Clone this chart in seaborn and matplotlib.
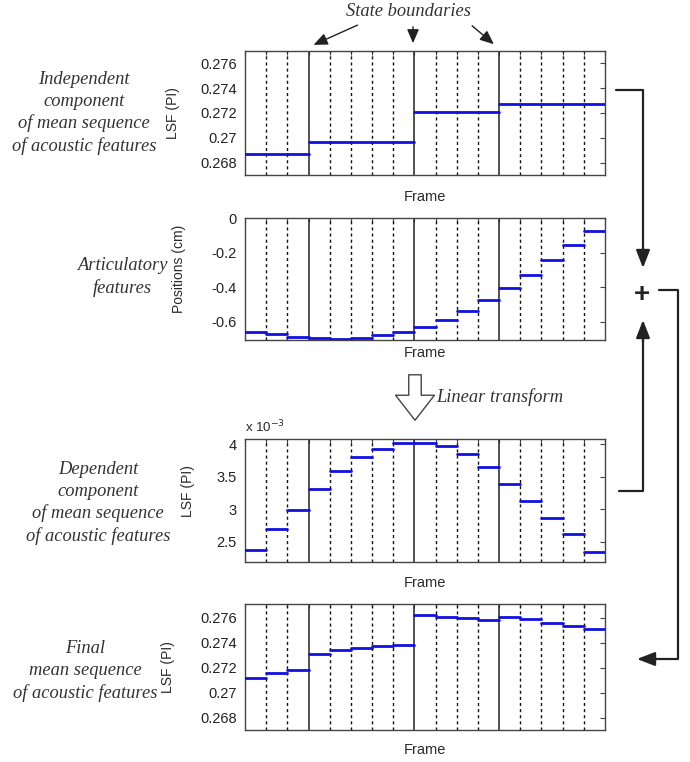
import numpy as np
import pandas as pd
import seaborn as sns
import matplotlib.pyplot as plt

# frames per HMM state (state boundaries after frames 3, 8 and 12)
state_lengths = [3, 5, 4, 5]

# panel 1: independent component, one value per state
lsf_indep_states = [0.26873, 0.26970, 0.27212, 0.27269]
# panel 2: articulatory feature per frame (cm)
positions_cm = [-0.658, -0.671, -0.687, -0.692, -0.698, -0.692, -0.677, -0.658, -0.629,
                -0.590, -0.538, -0.475, -0.402, -0.331, -0.244, -0.154, -0.075]
# panel 3: dependent component per frame (x 1e-3)
lsf_dep_e3 = [2.382, 2.694, 2.996, 3.319, 3.585, 3.800, 3.933, 4.026, 4.026,
              3.980, 3.850, 3.652, 3.386, 3.124, 2.868, 2.618, 2.341]
# panel 4: final mean sequence per frame
lsf_final = [0.27115, 0.27156, 0.27183, 0.27312, 0.27339, 0.27360, 0.27371, 0.27379, 0.27622,
             0.27608, 0.27600, 0.27581, 0.27608, 0.27587, 0.27555, 0.27533, 0.27509]

lsf_ticks = [0.268, 0.270, 0.272, 0.274, 0.276]
lsf_ticklabels = ['0.268', '0.27', '0.272', '0.274', '0.276']
pos_ticks = [-0.6, -0.4, -0.2, 0]
pos_ticklabels = ['-0.6', '-0.4', '-0.2', '0']
dep_ticks = [2.5, 3, 3.5, 4]
dep_ticklabels = ['2.5', '3', '3.5', '4']

left_texts = [
    'Independent\ncomponent\nof mean sequence\nof acoustic features',
    'Articulatory\nfeatures',
    'Dependent\ncomponent\nof mean sequence\nof acoustic features',
    'Final\nmean sequence\nof acoustic features',
]

sns.set_theme(style='white')
plt.rcParams['font.family'] = ['Liberation Sans', 'DejaVu Sans']

W, H = 690, 762
fig = plt.figure(figsize=(W / 100, H / 100), dpi=100)

n_frames = sum(state_lengths)
boundaries = list(np.cumsum(state_lengths)[:-1])


def fr(x, y):
    # pixel (top-left origin) -> figure fraction
    return x / W, 1 - y / H


def ax_box(top, bottom, left=245, right=605):
    return [left / W, 1 - bottom / H, (right - left) / W, (bottom - top) / H]


def frame_df(values):
    rows = []
    for i, v in enumerate(values):
        rows.append({'x': i, 'y': v, 'frame': i})
        rows.append({'x': i + 1, 'y': v, 'frame': i})
    return pd.DataFrame(rows)


panels = [
    dict(box=ax_box(51, 175), vals=np.repeat(lsf_indep_states, state_lengths), ylim=(0.267, 0.277),
         ticks=lsf_ticks, labels=lsf_ticklabels, ylabel='LSF (PI)', ylab=(-0.18, 0.5), xlab=-0.177),
    dict(box=ax_box(218, 340), vals=positions_cm, ylim=(-0.705, 0),
         ticks=pos_ticks, labels=pos_ticklabels, ylabel='Positions (cm)', ylab=(-0.165, 0.58), xlab=-0.107),
    dict(box=ax_box(439, 562), vals=lsf_dep_e3, ylim=(2.19, 4.08),
         ticks=dep_ticks, labels=dep_ticklabels, ylabel='LSF (PI)', ylab=(-0.14, 0.58), xlab=-0.171),
    dict(box=ax_box(604, 730), vals=lsf_final, ylim=(0.267, 0.2771),
         ticks=lsf_ticks, labels=lsf_ticklabels, ylabel='LSF (PI)', ylab=(-0.195, 0.5), xlab=-0.159),
]

for p in panels:
    ax = fig.add_axes(p['box'])
    for e in range(1, n_frames):
        if e in boundaries:
            ax.axvline(e, color='#222222', lw=1.1, zorder=1)
        else:
            ax.axvline(e, color='#111111', lw=1.0, ls=(0, (2.2, 2.2)), zorder=1)
    sns.lineplot(data=frame_df(p['vals']), x='x', y='y', units='frame', estimator=None,
                 color='#1010e0', lw=2, ax=ax, legend=False, zorder=3)
    ax.set_xlim(0, n_frames)
    ax.set_ylim(*p['ylim'])
    ax.set_xticks(range(n_frames + 1))
    ax.set_yticks(p['ticks'], p['labels'])
    ax.tick_params(axis='both', direction='in', top=True, right=True, length=3.5, width=0.8,
                   color='#444444', labelcolor='#222222', labelsize=10.5, pad=6)
    ax.tick_params(axis='x', labelbottom=False, length=3)
    for s in ax.spines.values():
        s.set_color('#444444')
        s.set_linewidth(1.0)
    ax.set_ylabel(p['ylabel'], fontsize=10, color='#2a2a2a')
    ax.yaxis.set_label_coords(*p['ylab'])
    ax.set_xlabel('Frame', fontsize=10.5, color='#2a2a2a')
    ax.xaxis.set_label_coords(0.5, p['xlab'])
    ax.xaxis.label.set_va('center')

# exponent label of the dependent-component panel
fig.text(*fr(245, 427), r'x 10$^{-3}$', fontsize=9.5, color='#2a2a2a', va='center', ha='left')

# left-hand descriptions
serif = dict(family=['Liberation Serif', 'DejaVu Serif'], style='italic', fontsize=13.3,
             color='#333333', ha='center', va='center', linespacing=1.35)
fig.text(*fr(84, 113), left_texts[0], **serif)
fig.text(*fr(122, 277), left_texts[1], **serif)
fig.text(*fr(98, 503), left_texts[2], **serif)
fig.text(*fr(85, 671), left_texts[3], **serif)

# state boundaries annotation
fig.text(*fr(408, 12), 'State boundaries', **{**serif, 'linespacing': 1.0})
thin = dict(arrowstyle='-|>,head_length=0.7,head_width=0.3', color='#222222', lw=1.0)
for start, end in [((360, 24), (311, 46)), ((413, 24), (413, 46)), ((470, 24), (496, 46))]:
    plt.annotate('', xy=fr(*end), xycoords='figure fraction', xytext=fr(*start),
                 textcoords='figure fraction', arrowprops=thin)

# linear transform hollow arrow
plt.annotate('', xy=fr(415, 423), xycoords='figure fraction', xytext=fr(415, 372),
             textcoords='figure fraction',
             arrowprops=dict(arrowstyle='simple,head_length=0.9,head_width=1.4,tail_width=0.45',
                             fc='white', ec='#444444', lw=1.0, mutation_scale=20))
fig.text(*fr(436, 397), 'Linear transform', **{**serif, 'ha': 'left', 'linespacing': 1.0})

# flow arrows on the right
thick = dict(arrowstyle='-|>,head_length=0.9,head_width=0.35', color='#222222', lw=1.6,
             shrinkA=0, shrinkB=0)


def poly(points):
    xs = [fr(*pt)[0] for pt in points]
    ys = [fr(*pt)[1] for pt in points]
    fig.add_artist(plt.Line2D(xs, ys, color='#222222', lw=1.6, transform=fig.transFigure))


poly([(616, 90), (643, 90), (643, 250)])
plt.annotate('', xy=fr(643, 268), xycoords='figure fraction', xytext=fr(643, 248),
             textcoords='figure fraction', arrowprops=thick)
poly([(619, 491), (643, 491), (643, 340)])
plt.annotate('', xy=fr(643, 320), xycoords='figure fraction', xytext=fr(643, 342),
             textcoords='figure fraction', arrowprops=thick)
fig.text(*fr(642, 295), '+', fontsize=20, fontweight='bold', color='#222222', ha='center', va='center')
poly([(659, 290), (678, 290), (678, 659), (655, 659)])
plt.annotate('', xy=fr(637, 659), xycoords='figure fraction', xytext=fr(657, 659),
             textcoords='figure fraction', arrowprops=thick)

fig.savefig('out.png', dpi=100)
